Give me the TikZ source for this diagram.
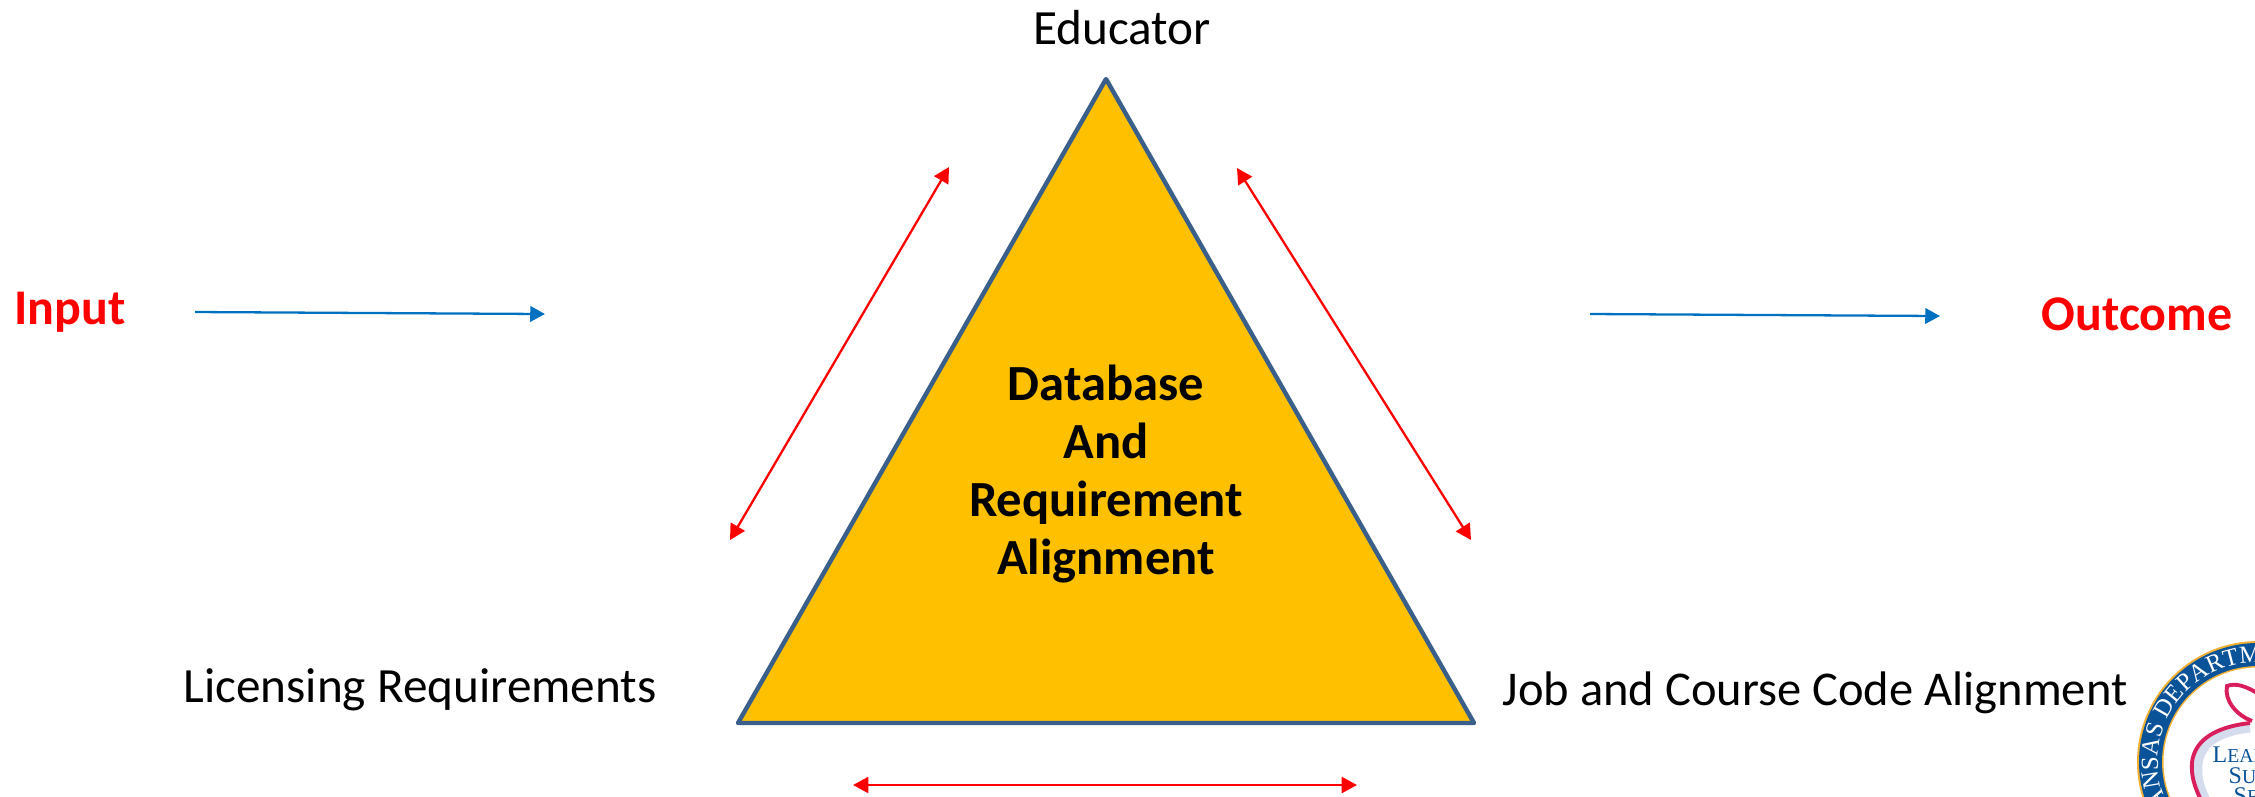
\documentclass[tikz,border=0pt]{standalone}
\usepackage{fontspec}
\setmainfont{Carlito}
\newfontfamily\sealfont{Liberation Serif}
\usetikzlibrary{arrows.meta,decorations.text}
\definecolor{triblue}{HTML}{3A5F8B}
\definecolor{trigold}{HTML}{FFC000}
\definecolor{flowblue}{HTML}{0070C0}
\definecolor{sealblue}{HTML}{0B5399}
\definecolor{sealgold}{HTML}{F2B134}
\definecolor{sealred}{HTML}{D81E5B}
\definecolor{sealglow}{HTML}{D5DCEE}
\tikzset{
    label/.style={font=\fontsize{14}{17}\selectfont},
    flowlabel/.style={font=\fontsize{14.2}{17}\selectfont\bfseries,text=red},
    centerlabel/.style={font=\fontsize{14.4}{16.4}\selectfont\bfseries,align=center},
    redarrow/.style={draw=red,line width=0.65pt,{Triangle[length=4.4pt,width=4.6pt]}-{Triangle[length=4.4pt,width=4.6pt]}},
    bluearrow/.style={draw=flowblue,line width=0.65pt,-{Triangle[length=4.2pt,width=4.4pt]}},
    sealtext/.style={text=sealblue,anchor=base west,inner sep=0pt,font=\sealfont\fontsize{5.6}{5.6}\selectfont},
}
\newcommand{\sealcap}[1]{{\fontsize{6.8}{6.8}\selectfont #1}}
\begin{document}
\begin{tikzpicture}[x=0.01cm,y=-0.01cm]
                \useasboundingbox (0,0) rectangle (2255,796);
                % triangle
                \coordinate (T) at (1106,79);
                \coordinate (L) at (738,723);
                \coordinate (R) at (1474,723);
                \draw[triblue,fill=trigold,line width=1.25pt,line join=round] (T) -- (R) -- (L) -- cycle;
                % texts
                \begin{scope}[every node/.style={label}]
                    \node (educator) at (1122,28) {Educator};
                    \node (licensing) at (420,690) {Licensing Requirements};
                    \node[font=\fontsize{13.8}{17}\selectfont] (job) at (1815,693) {Job and Course Code Alignment};
                \end{scope}
                \begin{scope}[every node/.style={flowlabel}]
                    \node (input) at (70,312) {Input};
                    \node (outcome) at (2137,314) {Outcome};
                \end{scope}
                \node[centerlabel] (database) at (1106,474) {Database\\And\\Requirement\\Alignment};
                % arrow ends
                \coordinate (A1) at (730,540);
                \coordinate (A2) at (949,167);
                \coordinate (B1) at (1237,168);
                \coordinate (B2) at (1471,540);
                \coordinate (C1) at (853,785);
                \coordinate (C2) at (1357,785);
                \coordinate (I1) at (195,312);
                \coordinate (I2) at (545,314);
                \coordinate (O1) at (1590,314);
                \coordinate (O2) at (1940,316);
                \begin{scope}[every path/.style={redarrow}]
                    \draw (A1) -- (A2);
                    \draw (B1) -- (B2);
                    \draw (C1) -- (C2);
                \end{scope}
                \begin{scope}[every path/.style={bluearrow}]
                    \draw (I1) -- (I2);
                    \draw (O1) -- (O2);
                \end{scope}
                % seal in the corner
                \begin{scope}
                    \clip (2100,620) rectangle (2255,796);
                    \fill[sealgold] (2258,762) circle (121);
                    \fill[sealblue] (2258,762) circle (119);
                    \fill[sealgold] (2258,762) circle (96);
                    \fill[white] (2258,762) circle (94.5);
                    % apple
                    \draw[sealglow,line width=2.5pt] (2250,728) .. controls (2215,732) and (2200,745) .. (2198,765) .. controls (2197,778) and (2200,788) .. (2206,800);
                    \draw[sealred,line width=1.1pt] (2250,723) .. controls (2215,727) and (2195,740) .. (2192,762) .. controls (2191,775) and (2194,785) .. (2200,798);
                    \draw[sealred,line width=1.1pt] (2260,695) .. controls (2245,685) and (2235,683) .. (2227,686) .. controls (2224,700) and (2236,715) .. (2252,721);
                    \node[sealtext] (lead) at (2212,762) {\sealcap{L}EAD};
                    \node[sealtext] (su) at (2228,783) {\sealcap{S}U};
                    \node[sealtext] (se) at (2233,803) {\sealcap{S}E};
                    \path[decorate,decoration={text along path,text={|\sealfont\fontsize{7}{7}\selectfont\color{white}|ANSAS DEPARTM},text align=left}]
                        (2258,762) ++(155:100) arc[start angle=155,end angle=290,radius=100];
                \end{scope}
\end{tikzpicture}
\end{document}
